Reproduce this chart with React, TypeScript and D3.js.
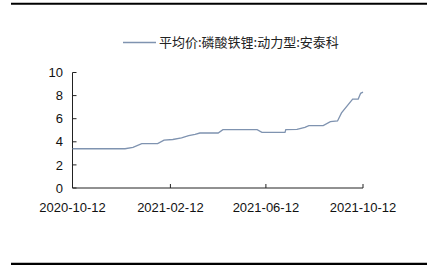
import React from "react";
import * as d3 from "d3";

const seriesName = "平均价:磷酸铁锂:动力型:安泰科";
const dates = [
  "2020-10-12", "2020-12-17", "2020-12-27", "2021-01-07", "2021-01-27", "2021-02-04",
  "2021-02-15", "2021-02-26", "2021-03-07", "2021-03-15", "2021-03-21", "2021-04-13",
  "2021-04-19", "2021-06-01", "2021-06-07", "2021-07-06", "2021-07-07", "2021-07-21",
  "2021-07-31", "2021-08-05", "2021-08-23", "2021-09-01", "2021-09-10", "2021-09-15",
  "2021-09-29", "2021-10-06", "2021-10-09", "2021-10-12",
];
const values = [
  3.4, 3.4, 3.52, 3.84, 3.84, 4.15,
  4.2, 4.33, 4.53, 4.65, 4.76, 4.76,
  5.05, 5.05, 4.82, 4.82, 5.05, 5.08,
  5.25, 5.4, 5.4, 5.74, 5.8, 6.5,
  7.7, 7.7, 8.2, 8.3,
];
const yTicks = [0, 2, 4, 6, 8, 10];
const xTickLabels = ["2020-10-12", "2021-02-12", "2021-06-12", "2021-10-12"];

const W = 432;
const H = 271;

export default function App() {
  const parse = d3.timeParse("%Y-%m-%d");
  const fmt = d3.timeFormat("%Y-%m-%d");
  const data = dates.map((d, i) => ({ date: parse(d) as Date, value: values[i] }));
  const x = d3
    .scaleTime()
    .domain([parse(xTickLabels[0]) as Date, parse(xTickLabels[xTickLabels.length - 1]) as Date])
    .range([72.5, 363]);
  const y = d3.scaleLinear().domain([0, 10]).range([188, 72.5]);
  const line = d3
    .line<{ date: Date; value: number }>()
    .x((d) => x(d.date))
    .y((d) => y(d.value));
  const axisColor = "#222";
  const font = "'Liberation Sans', Arial, sans-serif";
  const cjk = "'Noto Sans CJK SC', sans-serif";
  const lineColor = "#7f93b0";
  return (
    <svg
      width={W}
      height={H}
      style={{ position: "absolute", left: 0, top: 0, background: "#fff" }}
    >
      <rect x={0} y={0} width={W} height={H} fill="#fff" />
      <line x1={11} x2={427} y1={3.8} y2={3.8} stroke="#000" strokeWidth={2} />
      <line x1={11} x2={427} y1={263.8} y2={263.8} stroke="#000" strokeWidth={2.2} />
      {/* legend */}
      <line x1={123} x2={156} y1={42.5} y2={42.5} stroke={lineColor} strokeWidth={1.3} />
      <text x={159} y={47} fontFamily={cjk} fontSize={13} fill="#222">
        {seriesName}
      </text>
      {/* y axis */}
      <line x1={72.5} x2={72.5} y1={y(10)} y2={y(0)} stroke={axisColor} strokeWidth={1} />
      {yTicks.map((t) => (
        <g key={t}>
          <line x1={72.5} x2={76.5} y1={y(t)} y2={y(t)} stroke={axisColor} strokeWidth={1} />
          <text
            x={63}
            y={y(t) + 4.6}
            textAnchor="end"
            fontFamily={font}
            fontSize={13}
            fill="#111"
          >
            {t}
          </text>
        </g>
      ))}
      {/* x axis */}
      <line x1={72.5} x2={363} y1={y(0)} y2={y(0)} stroke={axisColor} strokeWidth={1} />
      {xTickLabels.map((lbl) => {
        const d = parse(lbl) as Date;
        return (
          <g key={lbl}>
            <line x1={x(d)} x2={x(d)} y1={y(0)} y2={y(0) - 4} stroke={axisColor} strokeWidth={1} />
            <text
              x={x(d)}
              y={211.5}
              textAnchor="middle"
              fontFamily={font}
              fontSize={13}
              fill="#111"
            >
              {fmt(d)}
            </text>
          </g>
        );
      })}
      <path d={line(data) || ""} fill="none" stroke={lineColor} strokeWidth={1.3} />
    </svg>
  );
}
